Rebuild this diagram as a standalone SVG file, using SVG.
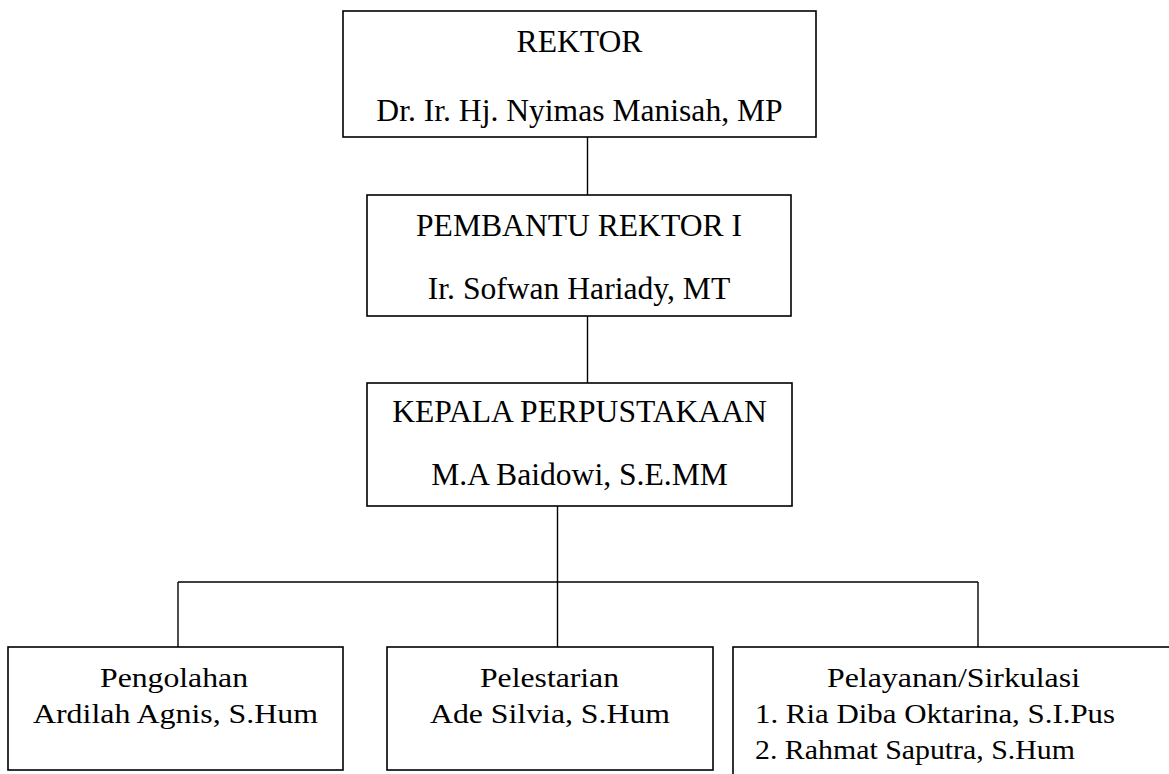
<svg xmlns="http://www.w3.org/2000/svg" width="1169" height="774" viewBox="0 0 1169 774">
<style>
.box{fill:#fff;stroke:#000;stroke-width:1.6}
.ln{fill:none;stroke:#000;stroke-width:1.4}
.t{font-family:"Liberation Serif","Times New Roman",serif;font-size:31.6px;fill:#000;text-anchor:middle}
.s{font-family:"Liberation Serif","Times New Roman",serif;font-size:27.8px;fill:#000;lengthAdjust:spacingAndGlyphs}
</style>
<rect width="1169" height="774" fill="#fff"/>
<g id="connectors">
<line class="ln" x1="587.5" y1="137" x2="587.5" y2="195"/>
<line class="ln" x1="587.5" y1="316" x2="587.5" y2="383"/>
<line class="ln" x1="557.5" y1="506" x2="557.5" y2="647"/>
<line class="ln" x1="178" y1="582" x2="978" y2="582"/>
<line class="ln" x1="178" y1="582" x2="178" y2="647"/>
<line class="ln" x1="978" y1="582" x2="978" y2="647"/>
</g>
<g id="rektor">
<rect class="box" x="343" y="11" width="473" height="126"/>
<text class="t" x="579.5" y="52">REKTOR</text>
<text class="t" x="579.5" y="121">Dr. Ir. Hj. Nyimas Manisah, MP</text>
</g>
<g id="pembantu">
<rect class="box" x="367" y="195" width="424" height="121"/>
<text class="t" x="579" y="236">PEMBANTU REKTOR I</text>
<text class="t" x="579" y="299">Ir. Sofwan Hariady, MT</text>
</g>
<g id="kepala">
<rect class="box" x="367" y="383" width="425" height="123"/>
<text class="t" x="579.5" y="422">KEPALA PERPUSTAKAAN</text>
<text class="t" x="579.5" y="485">M.A Baidowi, S.E.MM</text>
</g>
<g id="pengolahan">
<rect class="box" x="8" y="647" width="335" height="123"/>
<text class="s" x="100" y="687" textLength="148" lengthAdjust="spacingAndGlyphs">Pengolahan</text>
<text class="s" x="33" y="723" textLength="285" lengthAdjust="spacingAndGlyphs">Ardilah Agnis, S.Hum</text>
</g>
<g id="pelestarian">
<rect class="box" x="387" y="647" width="326" height="123"/>
<text class="s" x="480" y="687" textLength="139" lengthAdjust="spacingAndGlyphs">Pelestarian</text>
<text class="s" x="430" y="723" textLength="240" lengthAdjust="spacingAndGlyphs">Ade Silvia, S.Hum</text>
</g>
<g id="pelayanan">
<rect class="box" x="733" y="647" width="450" height="140"/>
<text class="s" x="827" y="687" textLength="253" lengthAdjust="spacingAndGlyphs">Pelayanan/Sirkulasi</text>
<text class="s" x="755" y="723" textLength="360" lengthAdjust="spacingAndGlyphs">1. Ria Diba Oktarina, S.I.Pus</text>
<text class="s" x="755" y="759" textLength="320" lengthAdjust="spacingAndGlyphs">2. Rahmat Saputra, S.Hum</text>
</g>
</svg>
